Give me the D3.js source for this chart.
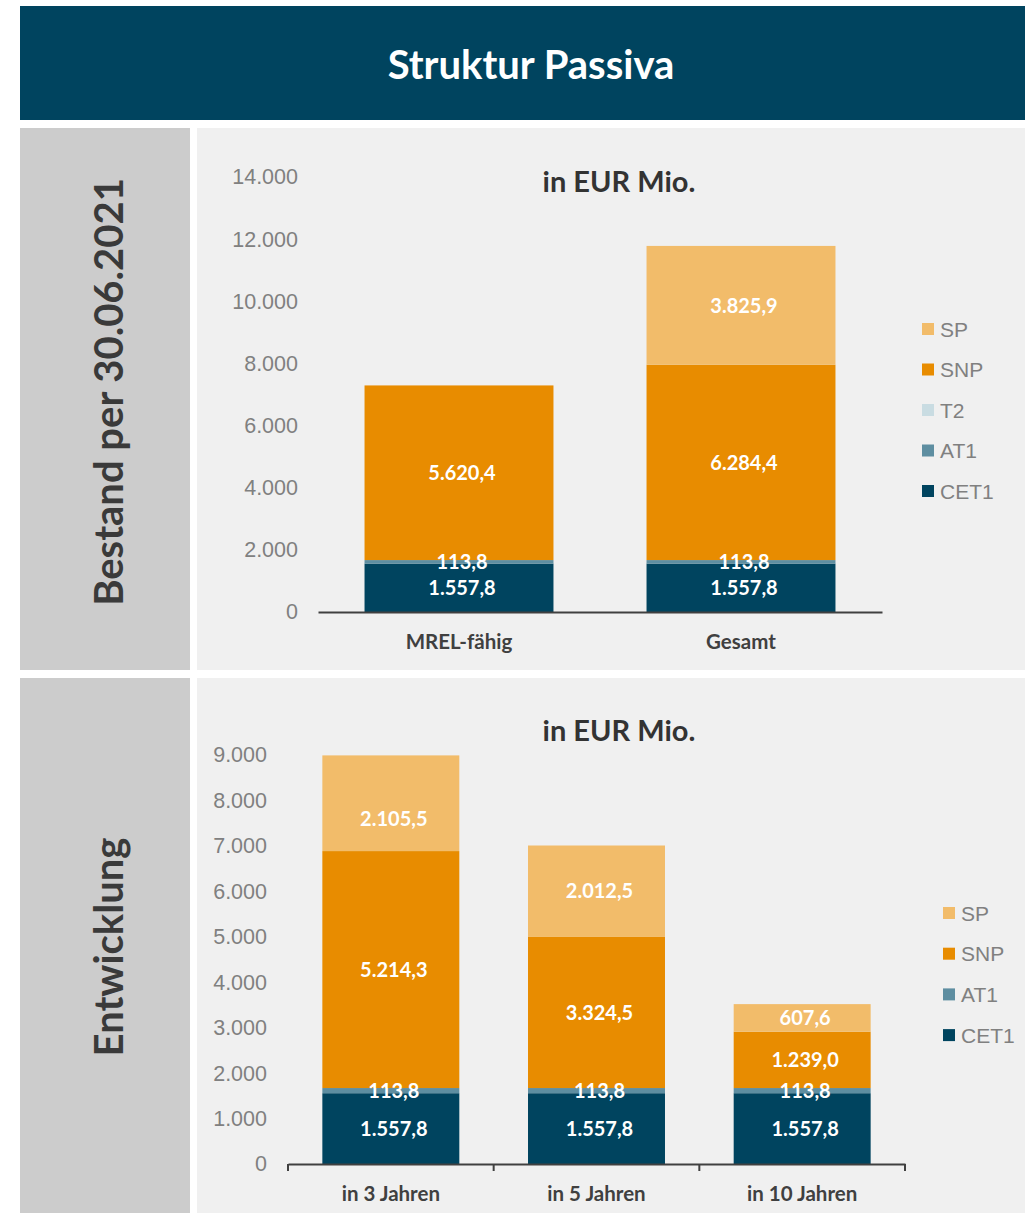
<!DOCTYPE html>
<html><head><meta charset="utf-8">
<script src="https://cdn.jsdelivr.net/npm/d3@7"></script>
<style>body{margin:0;background:#fff}svg{display:block}</style>
</head><body>
<svg id="c" width="1025" height="1213"></svg>
<script>
// ---- data ----
const title = "Struktur Passiva";
const unitLabel = "in EUR Mio.";
const sideTop = "Bestand per 30.06.2021";
const sideBottom = "Entwicklung";

const topCategories = ["MREL-fähig", "Gesamt"];
const topCET1 = [1557.8, 1557.8];
const topAT1 = [113.8, 113.8];
const topT2 = [0, 0];
const topSNP = [5620.4, 6284.4];
const topSP = [0, 3825.9];
const topTicks = [0, 2000, 4000, 6000, 8000, 10000, 12000, 14000];

const botCategories = ["in 3 Jahren", "in 5 Jahren", "in 10 Jahren"];
const botCET1 = [1557.8, 1557.8, 1557.8];
const botAT1 = [113.8, 113.8, 113.8];
const botSNP = [5214.3, 3324.5, 1239.0];
const botSP = [2105.5, 2012.5, 607.6];
const botTicks = [0, 1000, 2000, 3000, 4000, 5000, 6000, 7000, 8000, 9000];

const colors = {CET1: "#00445f", AT1: "#5e8ea1", T2: "#c9dce2", SNP: "#e88c00", SP: "#f2bc6a"};

const loc = d3.formatLocale({decimal: ",", thousands: ".", grouping: [3], currency: ["", "€"]});
const fTick = loc.format(",.0f");
const fVal = loc.format(",.1f");

const svg = d3.select("#c");
const BOLD = "Lato, 'Open Sans', sans-serif";
const REG = "'Liberation Sans', Arial, sans-serif";

// ---- background panels ----
svg.append("rect").attr("x", 20).attr("y", 6).attr("width", 1005).attr("height", 114).attr("fill", "#00445f");
svg.append("text").attr("x", 531).attr("y", 79).attr("text-anchor", "middle")
  .attr("font-family", BOLD).attr("font-weight", 700).attr("font-size", 40).attr("fill", "#fff").text(title);

svg.append("rect").attr("x", 20).attr("y", 128).attr("width", 170).attr("height", 542).attr("fill", "#cccccc");
svg.append("rect").attr("x", 197).attr("y", 128).attr("width", 828).attr("height", 542).attr("fill", "#f0f0f0");
svg.append("rect").attr("x", 20).attr("y", 678).attr("width", 170).attr("height", 535).attr("fill", "#cccccc");
svg.append("rect").attr("x", 197).attr("y", 678).attr("width", 828).attr("height", 535).attr("fill", "#f0f0f0");

function side(txt, cy) {
  svg.append("text").attr("transform", `translate(123,${cy}) rotate(-90)`).attr("text-anchor", "middle")
    .attr("font-family", BOLD).attr("font-weight", 700).attr("font-size", 40).attr("fill", "#3a3a3a").text(txt);
}
side(sideTop, 392);
side(sideBottom, 947);

function chart(cfg) {
  const g = svg.append("g");
  const x = d3.scaleBand().domain(cfg.cats).range(cfg.xr).paddingInner(cfg.pi).paddingOuter(cfg.pi / 2);
  const y = d3.scaleLinear().domain([0, cfg.ticks[cfg.ticks.length - 1]]).range(cfg.yr);
  const rows = cfg.cats.map((c, i) => {
    const o = {cat: c};
    cfg.keys.forEach(k => o[k] = cfg.series[k][i]);
    return o;
  });
  const stack = d3.stack().keys(cfg.keys)(rows);

  // y axis
  const ya = g.append("g").attr("transform", `translate(${cfg.xr[0]},0)`)
    .call(d3.axisLeft(y).tickValues(cfg.ticks).tickFormat(fTick).tickSize(0).tickPadding(cfg.tickPad));
  ya.select(".domain").remove();
  ya.selectAll("text").attr("font-family", REG).attr("font-size", 21.5).attr("fill", "#808080");

  // bars
  stack.forEach(layer => {
    g.append("g").selectAll("rect").data(layer).join("rect")
      .attr("x", d => x(d.data.cat)).attr("width", x.bandwidth())
      .attr("y", d => y(d[1])).attr("height", d => y(d[0]) - y(d[1]))
      .attr("fill", colors[layer.key]);
  });
  // labels
  stack.forEach(layer => {
    g.append("g").selectAll("text").data(layer.filter(d => d[1] - d[0] > 0)).join("text")
      .attr("x", d => x(d.data.cat) + x.bandwidth() / 2 + 3)
      .attr("y", d => y((d[0] + d[1]) / 2) + ((cfg.nudge[layer.key] || {})[d.data.cat] || 0))
      .attr("dy", "0.36em")
      .attr("text-anchor", "middle").attr("font-family", BOLD).attr("font-weight", 700)
      .attr("font-size", 20).attr("fill", "#fff").text(d => fVal(d[1] - d[0]));
  });

  // x axis
  const xa = g.append("g").attr("transform", `translate(0,${cfg.yr[0]})`)
    .call(d3.axisBottom(x).tickSize(0).tickPadding(cfg.xPad).tickSizeOuter(0));
  xa.select(".domain").attr("stroke", "#404040").attr("stroke-width", 2);
  xa.selectAll("text").attr("font-family", BOLD).attr("font-weight", 700).attr("font-size", 20.5).attr("fill", "#404040");
  if (cfg.boundaryTicks) {
    const step = x.step();
    const bounds = cfg.cats.map(c => x(c) - step * cfg.pi / 2).concat([cfg.xr[1]]);
    xa.selectAll(".btick").data(bounds).join("line").attr("class", "btick")
      .attr("x1", d => d).attr("x2", d => d).attr("y1", 0).attr("y2", 7)
      .attr("stroke", "#404040").attr("stroke-width", 2);
  }

  // title
  g.append("text").attr("x", 619).attr("y", cfg.titleY).attr("text-anchor", "middle")
    .attr("font-family", BOLD).attr("font-weight", 700).attr("font-size", 29).attr("fill", "#333")
    .text(unitLabel);

  // legend
  const lg = g.append("g");
  cfg.legend.forEach((k, i) => {
    const cy = cfg.legY + i * cfg.legStep;
    lg.append("rect").attr("x", cfg.legX).attr("y", cy - 6).attr("width", 12).attr("height", 12).attr("fill", colors[k]);
    lg.append("text").attr("x", cfg.legX + 18).attr("y", cy).attr("dy", "0.36em")
      .attr("font-family", REG).attr("font-size", 21).attr("fill", "#808080").text(k);
  });
}

chart({
  cats: topCategories, keys: ["CET1", "AT1", "T2", "SNP", "SP"],
  series: {CET1: topCET1, AT1: topAT1, T2: topT2, SNP: topSNP, SP: topSP},
  ticks: topTicks, xr: [318, 882], yr: [612, 177], pi: 0.33, tickPad: 20, xPad: 22,
  titleY: 192, legend: ["SP", "SNP", "T2", "AT1", "CET1"], legX: 922, legY: 329, legStep: 40.5,
  boundaryTicks: false, nudge: {}
});
chart({
  cats: botCategories, keys: ["CET1", "AT1", "SNP", "SP"],
  series: {CET1: botCET1, AT1: botAT1, SNP: botSNP, SP: botSP},
  ticks: botTicks, xr: [288, 905], yr: [1164, 755], pi: 0.334, tickPad: 21, xPad: 22,
  titleY: 741, legend: ["SP", "SNP", "AT1", "CET1"], legX: 943, legY: 913, legStep: 40.7,
  boundaryTicks: true, nudge: {SP: {"in 3 Jahren": 16}}
});
</script>
</body></html>
